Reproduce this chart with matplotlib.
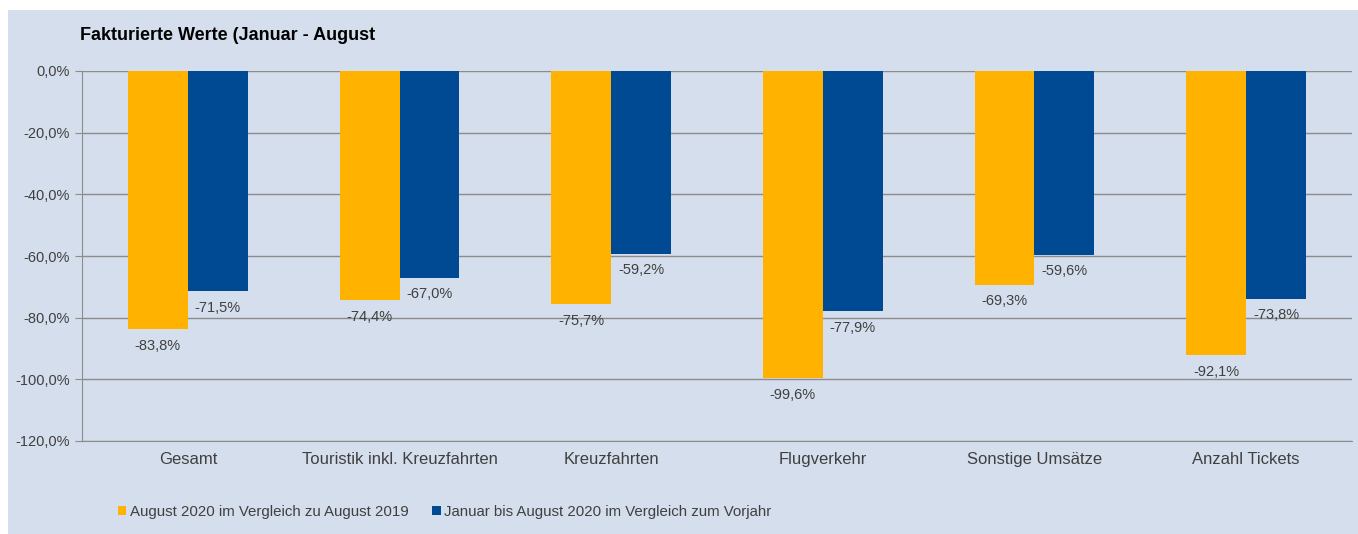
import numpy as np
import matplotlib
matplotlib.use('Agg')
from matplotlib import pyplot as plt
from matplotlib.patches import Rectangle

plt.rcParams['font.family'] = ['Liberation Sans', 'DejaVu Sans']

categories = ['Gesamt', 'Touristik inkl. Kreuzfahrten', 'Kreuzfahrten',
              'Flugverkehr', 'Sonstige Umsätze', 'Anzahl Tickets']
august = [-83.8, -74.4, -75.7, -99.6, -69.3, -92.1]
jan_aug = [-71.5, -67.0, -59.2, -77.9, -59.6, -73.8]
series_names = ['August 2020 im Vergleich zu August 2019',
                'Januar bis August 2020 im Vergleich zum Vorjahr']
yticks = [0, -20, -40, -60, -80, -100, -120]

bg = '#d5deec'
orange = '#ffb300'
blue = '#004a93'
txt = '#404040'
grid = '#8c8c8c'

fig = plt.figure(figsize=(13.58, 5.34), dpi=100)
fig.patch.set_facecolor('white')
fig.patches.append(Rectangle((8/1358, 0), 1 - 8/1358, 1 - 10/534,
                             transform=fig.transFigure, facecolor=bg,
                             edgecolor='none', zorder=-5))

ax = fig.add_axes([82/1358, 1 - 441/534, 1270/1358, 370/534])
ax.set_facecolor(bg)

x = np.arange(len(categories))
w = 0.283
b1 = ax.bar(x - w/2, august, w, color=orange, zorder=3)
b2 = ax.bar(x + w/2, jan_aug, w, color=blue, zorder=3)

def fmt(v):
    return ('%.1f%%' % v).replace('.', ',')

for bars, vals in ((b1, august), (b2, jan_aug)):
    for r, v in zip(bars, vals):
        ax.annotate(fmt(v), (r.get_x() + r.get_width()/2, v),
                    xytext=(0, -7), textcoords='offset points',
                    ha='center', va='top', fontsize=10.5, color=txt, zorder=4)

ax.set_xlim(-0.5, len(categories) - 0.5)
ax.set_ylim(-120, 0)
ax.set_yticks(yticks)
ax.set_yticklabels([fmt(v) for v in yticks], fontsize=10.5, color=txt)
ax.yaxis.grid(True, color=grid, linewidth=1, zorder=1)
ax.set_xticks(x)
ax.set_xticklabels(categories, fontsize=12, color=txt)
ax.tick_params(axis='x', length=0, pad=8)
ax.tick_params(axis='y', length=5, color=grid, direction='out', pad=4)

for s in ['top', 'right']:
    ax.spines[s].set_visible(False)
ax.spines['left'].set_color(grid)
ax.spines['bottom'].set_color(grid)

fig.text(80/1358, 1 - 36/534, 'Fakturierte Werte (Januar - August',
         fontsize=13, fontweight='bold', color='black', va='center')

leg = fig.legend([b1, b2], series_names, loc='center left',
                 bbox_to_anchor=(104/1358, 1 - 512/534), ncol=2, frameon=False,
                 fontsize=10.8, handlelength=0.55, handleheight=0.55,
                 handletextpad=0.25, columnspacing=1.6)
for t in leg.get_texts():
    t.set_color(txt)

fig.savefig('out.png', dpi=100, facecolor=fig.get_facecolor())
